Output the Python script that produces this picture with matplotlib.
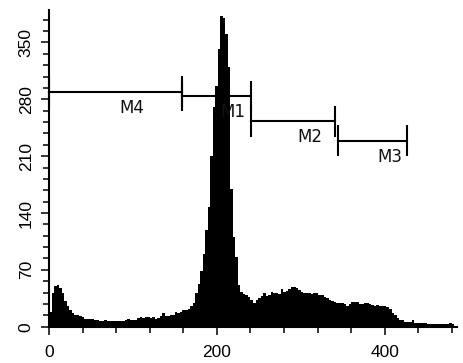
import matplotlib.pyplot as plt
from matplotlib.ticker import MultipleLocator
import numpy as np

plt.rcParams['font.family'] = ['Liberation Sans', 'DejaVu Sans']

# Histogram counts, one value per 3-unit channel bin starting at 0
bin_width = 3
counts = [
    18, 42, 50, 51, 48, 42, 32, 26, 20, 17,       # 0-30
    15, 14, 13, 12, 10, 10, 9, 9, 8, 8,           # 30-60
    7, 7, 8, 7, 7, 7, 7, 7, 7, 7,                 # 60-90
    8, 9, 8, 8, 8, 11, 12, 11, 12, 12,            # 90-120
    11, 12, 10, 11, 13, 17, 13, 13, 14, 15,       # 120-150
    18, 17, 18, 20, 20, 22, 25, 29, 41, 52,       # 150-180
    68, 90, 119, 147, 210, 270, 297, 342, 383, 380,  # 180-210
    360, 320, 170, 110, 86, 51, 43, 40, 39, 37,   # 210-240
    33, 29, 33, 35, 38, 41, 38, 39, 43, 41,       # 240-270
    41, 40, 46, 43, 44, 46, 49, 49, 48, 45,       # 270-300
    43, 41, 41, 42, 40, 41, 41, 39, 39, 37,       # 300-330
    35, 33, 32, 30, 29, 29, 29, 28, 26, 28,       # 330-360
    31, 31, 30, 28, 28, 29, 29, 28, 27, 26,       # 360-390
    27, 25, 25, 26, 24, 22, 17, 14, 11, 8,        # 390-420
    8, 6, 6, 6, 8, 4, 4, 4, 4, 5,                 # 420-450
    3, 3, 3, 3, 3, 3, 3, 3, 3, 5,                 # 450-480
    3,
]

# Region markers (gates)
marker_names = ['M4', 'M1', 'M2', 'M3']
marker_start = [0, 158, 241, 344]
marker_end = [158, 241, 341, 427]
marker_level = [289.5, 284, 253, 229]

edges = np.arange(len(counts) + 1) * bin_width

fig = plt.figure(figsize=(4.64, 3.63), dpi=100)
ax = fig.add_axes([0.1056, 0.1, 0.8793, 0.8725])

ax.stairs(counts, edges, fill=True, color='black', lw=0)

for name, x0, x1, y in zip(marker_names, marker_start, marker_end, marker_level):
    ax.plot([x0, x1], [y, y], color='black', lw=1.5, clip_on=False)
    ax.vlines([x0, x1], y - 19, y + 19, color='black', lw=1.5, clip_on=False)
    ax.text((x0 + x1) / 2 + 20, y - 20, name, ha='center', va='center',
            fontsize=12, family='DejaVu Sans', color='#111111')

ax.set_xlim(0, 486)
ax.set_ylim(0, 390)

ax.xaxis.set_major_locator(MultipleLocator(200))
ax.xaxis.set_minor_locator(MultipleLocator(40))
ax.yaxis.set_major_locator(MultipleLocator(70))
ax.yaxis.set_minor_locator(MultipleLocator(14))

for s in ['top', 'right']:
    ax.spines[s].set_visible(False)
for s in ['left', 'bottom']:
    ax.spines[s].set_linewidth(1.5)

ax.tick_params(which='major', length=6, width=1.1, labelsize=12.5, direction='out')
ax.tick_params(which='minor', length=4, width=1.1, direction='out')
ax.tick_params(axis='x', which='major', pad=7)
ax.tick_params(axis='y', which='major', pad=5, labelrotation=90)
for lab in ax.get_yticklabels():
    lab.set_va('center')

fig.savefig('out.png', dpi=100)
